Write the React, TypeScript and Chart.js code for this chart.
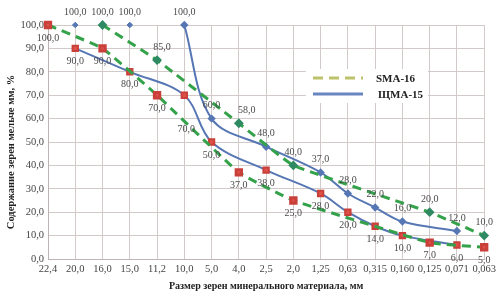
import React, { useEffect, useRef } from 'react';
import { Chart, registerables } from 'chart.js';

Chart.register(...registerables);

// ---- data ----
const categories = ['22,4', '20,0', '16,0', '15,0', '11,2', '10,0', '5,0', '4,0', '2,5', '2,0', '1,25', '0,63', '0,315', '0,160', '0,125', '0,071', '0,063'];
const smaUpper = [null, null, 100, null, 85, null, null, 58, null, 40, null, null, null, null, 20, null, 10];
const smaLower = [100, null, 90, null, 70, null, null, 37, null, 25, null, null, null, null, 7, null, 5];
const shmaUpperTop = [null, 100, null, 100, null, null, null, null, null, null, null, null, null, null, null, null, null];
const shmaUpper = [null, null, null, null, null, 100, 60, null, 48, null, 37, 28, 22, 16, null, 12, null];
const shmaLower = [null, 90, null, 80, null, 70, 50, null, 38, null, 28, 20, 14, 10, null, 6, null];
const yMin = 0;
const yMax = 100;
const yStep = 10;
const legendNames = ['SMA-16', 'ЩМА-15'];
const yTitle = 'Содержание зерен мельче мм, %';
const xTitle = 'Размер зерен минерального материала, мм';

const GREEN = '#34a24a';
const BLUE = '#5676b4';
const RED = '#df5048';
const FONT = "'Liberation Serif', 'DejaVu Serif', serif";

const fmt = (v: number) => v.toFixed(1).replace('.', ',');

// label nudges (styling only): key = datasetId-index
const nudges: Record<string, [number, number]> = {
  'smaUpper-4': [5, 0],
  'smaUpper-7': [8, 0],
  'shmaLower-5': [2, 21],
};

const dataLabelPlugin = {
  id: 'dataLabels',
  afterDatasetsDraw(chart: any) {
    const ctx = chart.ctx;
    ctx.save();
    ctx.font = `10px ${FONT}`;
    ctx.fillStyle = '#4a4a4a';
    ctx.textAlign = 'center';
    ctx.textBaseline = 'middle';
    chart.data.datasets.forEach((ds: any, di: number) => {
      const meta = chart.getDatasetMeta(di);
      meta.data.forEach((el: any, i: number) => {
        const v = ds.data[i];
        if (v === null || v === undefined) return;
        const n = nudges[`${ds.id}-${i}`] || [0, 0];
        const dy = ds.labelPos === 'above' ? -13 : 13;
        ctx.fillText(fmt(v), el.x + n[0], el.y + dy + n[1]);
      });
    });
    ctx.restore();
  },
};

const legendPlugin = {
  id: 'customLegend',
  afterDraw(chart: any) {
    const ctx = chart.ctx;
    ctx.save();
    ctx.fillStyle = '#fff';
    ctx.fillRect(306, 69, 122, 34);
    ctx.lineWidth = 3;
    ctx.strokeStyle = '#bcc36a';
    ctx.setLineDash([10, 6]);
    ctx.beginPath();
    ctx.moveTo(313, 78);
    ctx.lineTo(363, 78);
    ctx.stroke();
    ctx.setLineDash([]);
    ctx.strokeStyle = '#6a86c0';
    ctx.beginPath();
    ctx.moveTo(313, 94);
    ctx.lineTo(363, 94);
    ctx.stroke();
    ctx.fillStyle = '#222';
    ctx.font = `bold 11px ${FONT}`;
    ctx.textAlign = 'left';
    ctx.textBaseline = 'middle';
    ctx.fillText(legendNames[0], 376, 79);
    ctx.fillText(legendNames[1], 378, 95);
    // y-axis title
    ctx.font = `bold 10.5px ${FONT}`;
    ctx.textAlign = 'center';
    ctx.translate(11, 152);
    ctx.rotate(-Math.PI / 2);
    ctx.fillText(yTitle, 0, 0);
    ctx.restore();
  },
};

export default function App() {
  const ref = useRef<HTMLCanvasElement | null>(null);
  useEffect(() => {
    if (!ref.current) return;
    const chart = new Chart(ref.current, {
      type: 'line',
      data: {
        labels: categories,
        datasets: [
          {
            id: 'smaUpper', labelPos: 'above',
            data: smaUpper, spanGaps: true, tension: 0.1,
            borderColor: GREEN, borderWidth: 3, borderDash: [9, 6],
            pointStyle: 'rectRot', pointRadius: 2.8, pointBackgroundColor: '#2f8a63', pointBorderColor: '#2f8a63', clip: 12,
          },
          {
            id: 'smaLower', labelPos: 'below',
            data: smaLower, spanGaps: true, tension: 0.1,
            borderColor: GREEN, borderWidth: 3, borderDash: [9, 6],
            pointStyle: 'rect', pointRadius: 3.8, pointBackgroundColor: RED, pointBorderColor: '#c9403a', clip: 12,
          },
          {
            id: 'shmaUpperTop', labelPos: 'above',
            data: shmaUpperTop, showLine: false,
            pointStyle: 'rectRot', pointRadius: 2.8, pointBackgroundColor: BLUE, pointBorderColor: BLUE,
            borderColor: BLUE, clip: 12,
          },
          {
            id: 'shmaUpper', labelPos: 'above',
            data: shmaUpper, spanGaps: true, tension: 0.35,
            borderColor: BLUE, borderWidth: 2,
            pointStyle: 'rectRot', pointRadius: 2.8, pointBackgroundColor: BLUE, pointBorderColor: BLUE, clip: 12,
          },
          {
            id: 'shmaLower', labelPos: 'below',
            data: shmaLower, spanGaps: true, tension: 0.35,
            borderColor: BLUE, borderWidth: 2,
            pointStyle: 'rect', pointRadius: 3.8, pointBackgroundColor: RED, pointBorderColor: '#c9403a', clip: 12,
          },
        ] as any,
      },
      options: {
        animation: false,
        responsive: false,
        maintainAspectRatio: false,
        layout: { padding: { top: 25, right: 11, left: 0, bottom: 0 } },
        plugins: { legend: { display: false }, tooltip: { enabled: false } },
        scales: {
          x: {
            offset: false,
            grid: { color: '#d2c9c9', drawTicks: false },
            border: { color: '#bdb3b3' },
            ticks: { color: '#444', font: { family: FONT, size: 10.5 }, padding: 4, maxRotation: 0, autoSkip: false },
            title: { display: true, text: xTitle, color: '#222', font: { family: FONT, size: 10, weight: 'bold' }, padding: { top: 3, bottom: 2 } },
            afterFit: (s: any) => { s.height = 35; },
          },
          y: {
            min: yMin, max: yMax,
            grid: { color: '#d2c9c9', drawTicks: false },
            border: { color: '#bdb3b3' },
            ticks: { stepSize: yStep, color: '#444', font: { family: FONT, size: 10.5 }, padding: 4, callback: (v: any) => fmt(Number(v)) },
            title: { display: false, text: yTitle },
            afterFit: (s: any) => { s.width = 48; },
          },
        },
      },
      plugins: [dataLabelPlugin, legendPlugin],
    } as any);
    return () => chart.destroy();
  }, []);
  return (
    <div style={{ position: 'fixed', left: 0, top: 0, width: 500, height: 294, background: '#fff' }}>
      <canvas ref={ref} width={500} height={294} style={{ width: 500, height: 294, display: 'block' }} />
    </div>
  );
}
